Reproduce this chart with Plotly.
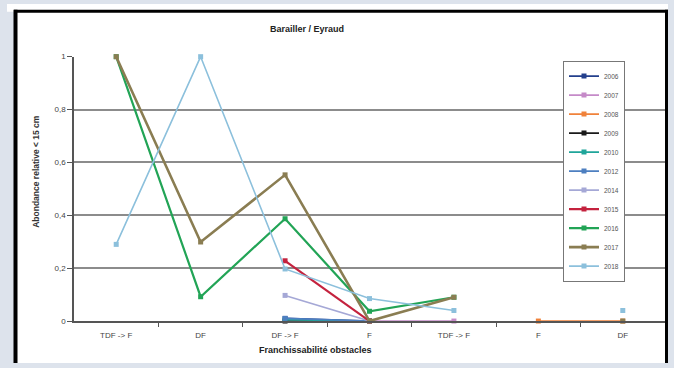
import plotly.graph_objects as go

categories = ["TDF -> F", "DF", "DF -> F", "F", "TDF -> F", "F", "DF"]
x_pos = [0, 1, 2, 3, 4, 5, 6]

years = ["2006", "2007", "2008", "2009", "2010", "2012", "2014", "2015", "2016", "2017", "2018"]
N = None
values = {
    "2006": [N, N, 0.01, 0.0, N, N, N],
    "2007": [N, N, N, 0.0, 0.0, N, N],
    "2008": [N, N, N, N, N, 0.0, 0.0],
    "2009": [N, N, 0.0, 0.0, N, N, N],
    "2010": [N, N, 0.005, 0.0, N, N, N],
    "2012": [N, N, 0.01, 0.0, N, N, N],
    "2014": [N, N, 0.097, 0.0, N, N, N],
    "2015": [N, N, 0.228, 0.0, N, N, N],
    "2016": [1.0, 0.092, 0.387, 0.037, 0.09, N, N],
    "2017": [1.0, 0.299, 0.553, 0.0, 0.09, N, 0.0],
    "2018": [0.29, 1.0, 0.197, 0.085, 0.04, N, 0.04],
}
colors = {
    "2006": "#233f8c", "2007": "#c58ac8", "2008": "#f0823a", "2009": "#1a1a1a",
    "2010": "#1fa59a", "2012": "#4d7fc0", "2014": "#a5a8d6", "2015": "#c4223e",
    "2016": "#22a456", "2017": "#8a7d52", "2018": "#8cc0dc",
}
widths = {"2015": 2.2, "2016": 2.2, "2017": 2.6}

fig = go.Figure()
for yr in years:
    fig.add_trace(go.Scatter(
        x=x_pos, y=values[yr], name=yr, mode="lines+markers",
        line=dict(color=colors[yr], width=widths.get(yr, 1.6)),
        marker=dict(symbol="square", size=5, color=colors[yr]),
        connectgaps=False, cliponaxis=False,
    ))

W, H = 674, 368
font_fam = "Liberation Sans Narrow, Liberation Sans, Arial, sans-serif"

shapes = [
    dict(type="rect", xref="paper", yref="paper", x0=7/W, x1=668/W, y0=(H-8)/H, y1=1,
         fillcolor="white", line=dict(width=0), layer="below"),
    dict(type="rect", xref="paper", yref="paper", x0=15/W, x1=667/W, y0=0, y1=(H-8)/H,
         fillcolor="white", line=dict(width=0), layer="below"),
    dict(type="line", xref="paper", yref="paper", x0=15.5/W, x1=15.5/W, y0=0, y1=(H-6)/H,
         line=dict(color="black", width=4), layer="above"),
    dict(type="line", xref="paper", yref="paper", x0=14/W, x1=668/W, y0=(H-7.5)/H, y1=(H-7.5)/H,
         line=dict(color="black", width=3), layer="above"),
    dict(type="line", xref="paper", yref="paper", x0=666.5/W, x1=666.5/W, y0=0, y1=(H-6)/H,
         line=dict(color="black", width=3), layer="above"),
]

annotations = [
    dict(text="<b>Barailler / Eyraud</b>", x=307/W, y=(H-26)/H, xref="paper", yref="paper",
         xanchor="center", yanchor="middle",
         showarrow=False, font=dict(size=9, color="#222", family=font_fam)),
    dict(text="<b>Abondance relative < 15 cm</b>", x=36/W, y=(H-172)/H, xref="paper", yref="paper",
         xanchor="center", yanchor="middle",
         showarrow=False, textangle=-90, font=dict(size=8.5, color="#333", family=font_fam)),
    dict(text="<b>Franchissabilité obstacles</b>", x=315/W, y=(H-355)/H, xref="paper", yref="paper",
         xanchor="center", yanchor="middle",
         showarrow=False, font=dict(size=9, color="#222", family=font_fam)),
]

fig.update_layout(
    width=W, height=H,
    margin=dict(l=0, r=0, t=0, b=0),
    paper_bgcolor="#dde3ec",
    plot_bgcolor="rgba(0,0,0,0)",
    separators=", ",
    font=dict(family=font_fam, size=8, color="#444"),
    shapes=shapes,
    annotations=annotations,
    showlegend=True,
    legend=dict(
        x=563/W, y=(H-58)/H, xanchor="left", yanchor="top",
        bgcolor="white", bordercolor="#777", borderwidth=1,
        font=dict(size=6.5, color="#555", family=font_fam),
        itemwidth=30, tracegroupgap=0,
    ),
    xaxis=dict(
        domain=[74/W, 665/W], range=[-0.5, 6.5],
        tickmode="array", tickvals=x_pos, ticktext=categories,
        ticks="", showgrid=False, zeroline=False,
        showline=True, linecolor="#555", linewidth=1.5,
        tickfont=dict(size=8, color="#444"),
        ticklabelstandoff=6,
        minor=dict(tickmode="array", tickvals=[0.5, 1.5, 2.5, 3.5, 4.5, 5.5],
                   ticks="outside", ticklen=4, tickcolor="#555", tickwidth=1, showgrid=False),
    ),
    yaxis=dict(
        domain=[43/H, 314/H], range=[0, 1],
        tickmode="linear", tick0=0, dtick=0.2,
        ticks="outside", ticklen=5, tickcolor="#555",
        showgrid=True, gridcolor="#8c8c8c", gridwidth=1.5,
        zeroline=False, showline=True, linecolor="#555", linewidth=1.5,
        tickfont=dict(size=8, color="#444"),
    ),
)

fig.write_html("out.html")
